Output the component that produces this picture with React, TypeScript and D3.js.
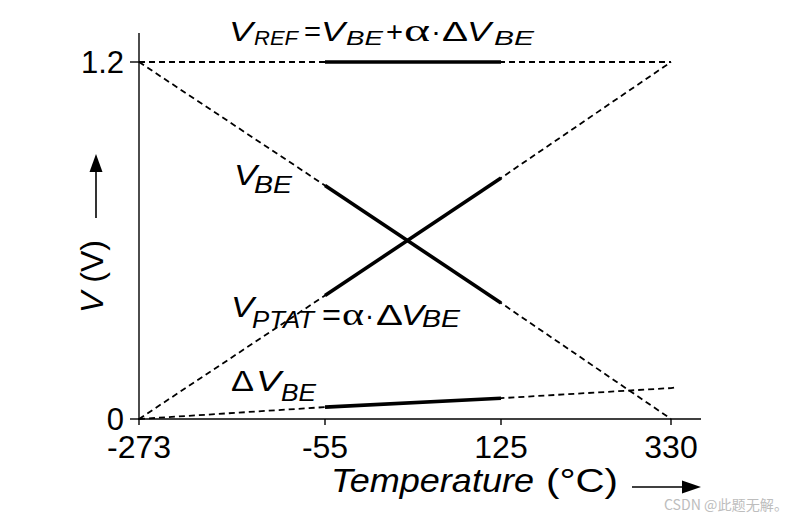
import * as d3 from 'd3';

const temps = [-273, -55, 125, 330];
const xTicks = [-273, -55, 125, 330];
const yTicks = [0, 1.2];
const opRange = [-55, 125];

// voltages (V) at each temperature in `temps`
const vref = [1.2, 1.2, 1.2, 1.2];
const vbe = [1.2, 0.785, 0.39, 0];
const vptat = [0, 0.415, 0.81, 1.2];
// ΔVBE keeps going a little past 330
const dvbeTemps = [-273, -55, 125, 330, 337];
const dvbe = [0, 0.04, 0.07, 0.104, 0.107];

const W = 807;
const H = 523;
const FONT = 'Liberation Sans, Arial, Helvetica, sans-serif';
const SERIF = 'Liberation Serif, Times New Roman, serif';

const x = d3.scaleLinear().domain([-273, -55, 125, 330]).range([139, 325, 501, 671]);
const y = d3.scaleLinear().domain([0, 1.2]).range([419, 62]);

const line = d3
    .line<[number, number]>()
    .x((d) => x(d[0]))
    .y((d) => y(d[1]));

function pairs(ts: number[], vs: number[]): [number, number][] {
    return ts.map((t, i) => [t, vs[i]] as [number, number]);
}

function solidPart(ts: number[], vs: number[]) {
    return pairs(ts, vs).filter((p) => p[0] >= opRange[0] && p[0] <= opRange[1]);
}

interface Part {
    t: string;
    x: number;
    w: number;
    y: number;
    size: number;
    italic?: boolean;
    serif?: boolean;
}

// each piece is stretched to the width it has in the figure
function Eq({ parts }: { parts: Part[] }) {
    return (
        <g fill="#000">
            {parts.map((p, i) => (
                <text
                    key={i}
                    x={p.x}
                    y={p.y}
                    fontSize={p.size}
                    fontStyle={p.italic ? 'italic' : 'normal'}
                    fontFamily={p.serif ? SERIF : FONT}
                    textLength={p.w}
                    lengthAdjust="spacingAndGlyphs"
                >
                    {p.t}
                </text>
            ))}
        </g>
    );
}

export default function App() {
    const series = [
        { ts: temps, vs: vref },
        { ts: temps, vs: vbe },
        { ts: temps, vs: vptat },
        { ts: dvbeTemps, vs: dvbe },
    ];

    return (
        <svg width={W} height={H} style={{ position: 'absolute', left: 0, top: 0, background: '#fff' }} fontFamily={FONT}>
            {/* axes */}
            <line x1={139} x2={139} y1={33} y2={420} stroke="#000" strokeWidth={1.4} />
            <line x1={138} x2={701} y1={y(0)} y2={y(0)} stroke="#000" strokeWidth={1.4} />
            {xTicks.map((t) => (
                <g key={t}>
                    <line x1={x(t)} x2={x(t)} y1={y(0)} y2={y(0) + 6} stroke="#000" strokeWidth={1.4} />
                    <text x={x(t)} y={458} textAnchor="middle" fontSize={32}>
                        {t}
                    </text>
                </g>
            ))}
            {yTicks.map((v) => (
                <g key={v}>
                    <line x1={130} x2={139} y1={y(v)} y2={y(v)} stroke="#000" strokeWidth={1.4} />
                    <text x={124} y={y(v) + 11} textAnchor="end" fontSize={31}>
                        {v === 0 ? '0' : v.toFixed(1)}
                    </text>
                </g>
            ))}

            {/* dashed full-range curves */}
            {series.map((s, i) => (
                <path key={'d' + i} d={line(pairs(s.ts, s.vs)) || ''} fill="none" stroke="#000" strokeWidth={1.8} strokeDasharray="6,4" />
            ))}
            {/* solid operating-range segments */}
            {series.map((s, i) => (
                <path key={'s' + i} d={line(solidPart(s.ts, s.vs)) || ''} fill="none" stroke="#000" strokeWidth={3.6} />
            ))}

            {/* VREF = VBE + α·ΔVBE */}
            <Eq
                parts={[
                    { t: 'V', x: 229, w: 24, y: 41, size: 28, italic: true },
                    { t: 'REF', x: 254, w: 44, y: 45, size: 21, italic: true },
                    { t: '=', x: 304, w: 17, y: 41, size: 28 },
                    { t: 'V', x: 321, w: 24, y: 41, size: 28, italic: true },
                    { t: 'BE', x: 346, w: 37, y: 45, size: 21, italic: true },
                    { t: '+', x: 386, w: 17, y: 41, size: 28 },
                    { t: 'α', x: 404, w: 26, y: 41, size: 32, serif: true },
                    { t: '·', x: 431, w: 10, y: 41, size: 28 },
                    { t: 'Δ', x: 442, w: 26, y: 41, size: 28 },
                    { t: 'V', x: 467, w: 24, y: 41, size: 28, italic: true },
                    { t: 'BE', x: 494, w: 40, y: 45, size: 21, italic: true },
                ]}
            />
            {/* VBE */}
            <Eq
                parts={[
                    { t: 'V', x: 234, w: 23, y: 185, size: 30, italic: true },
                    { t: 'BE', x: 254, w: 38, y: 193, size: 23, italic: true },
                ]}
            />
            {/* VPTAT = α·ΔVBE */}
            <Eq
                parts={[
                    { t: 'V', x: 231, w: 23, y: 317, size: 30, italic: true },
                    { t: 'PTAT', x: 252, w: 62, y: 328, size: 23, italic: true },
                    { t: '=', x: 322, w: 19, y: 325, size: 30 },
                    { t: 'α', x: 342, w: 22, y: 325, size: 32, serif: true },
                    { t: '·', x: 365, w: 9, y: 325, size: 30 },
                    { t: 'Δ', x: 376, w: 27, y: 325, size: 30 },
                    { t: 'V', x: 401, w: 23, y: 325, size: 30, italic: true },
                    { t: 'BE', x: 422, w: 38, y: 327, size: 23, italic: true },
                ]}
            />
            {/* ΔVBE */}
            <Eq
                parts={[
                    { t: 'Δ', x: 231, w: 23, y: 391, size: 30 },
                    { t: 'V', x: 256, w: 25, y: 391, size: 30, italic: true },
                    { t: 'BE', x: 281, w: 35, y: 401, size: 24, italic: true },
                ]}
            />

            {/* x axis title */}
            <Eq
                parts={[
                    { t: 'Temperature', x: 331, w: 203, y: 492, size: 34, italic: true },
                    { t: '(°C)', x: 546, w: 72, y: 492, size: 34 },
                ]}
            />
            <line x1={632} x2={684} y1={487} y2={487} stroke="#000" strokeWidth={1.6} />
            <path d="M682,480.5 L701,487 L682,493.5 Z" fill="#000" />

            {/* y axis title */}
            <text transform="translate(103,313) rotate(-90)" fontSize={32}>
                <tspan fontStyle="italic">V</tspan>
                <tspan> (V)</tspan>
            </text>
            <line x1={96} x2={96} y1={218} y2={170} stroke="#000" strokeWidth={1.6} />
            <path d="M89.5,172 L96,154 L102.5,172 Z" fill="#000" />

            {/* watermark */}
            <text
                x={664}
                y={510}
                fontSize={14}
                fill="#bdbdbd"
                fontFamily="Noto Sans CJK SC, sans-serif"
                textLength={124}
                lengthAdjust="spacingAndGlyphs"
            >
                CSDN @此题无解。
            </text>
        </svg>
    );
}
